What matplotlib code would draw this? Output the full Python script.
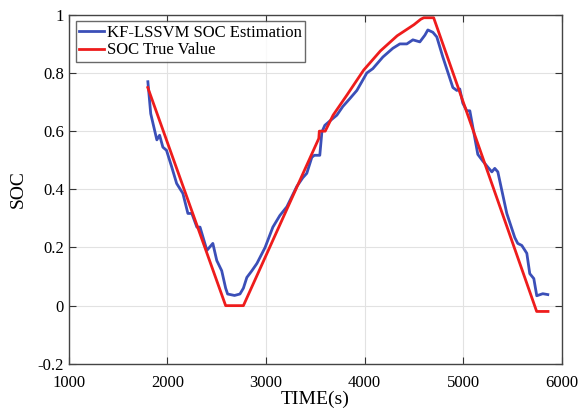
import matplotlib
matplotlib.use('Agg')
import matplotlib.pyplot as plt

plt.rcParams['font.family'] = ['Liberation Serif', 'DejaVu Serif']

# SOC true value (red)
true_t = [1800, 2590, 2770, 3535, 3540, 3600, 3680, 3820, 3990, 4160, 4330, 4500, 4570, 4600, 4700, 5745, 5860]
true_soc = [0.75, 0.0, 0.0, 0.575, 0.60, 0.60, 0.655, 0.724, 0.81, 0.876, 0.928, 0.966, 0.985, 0.99, 0.99, -0.02, -0.02]

# KF-LSSVM estimation (blue)
est_t = [1801, 1830, 1892, 1920, 1953, 1990, 2040, 2093, 2156, 2207, 2247, 2298, 2330, 2400, 2460,
         2500, 2550, 2590, 2610, 2680, 2735, 2770, 2805, 2856, 2907, 2990, 3069, 3140, 3211, 3312,
         3373, 3413, 3464, 3490, 3545, 3566, 3596, 3647, 3718, 3779, 3850, 3921, 4022, 4083, 4185,
         4286, 4357, 4428, 4489, 4560, 4611, 4641, 4692, 4732, 4793, 4895, 4935, 4965, 4996, 5036,
         5067, 5148, 5199, 5250, 5290, 5320, 5351, 5391, 5442, 5523, 5553, 5594, 5645, 5675, 5716,
         5746, 5807, 5858]
est_soc = [0.77, 0.66, 0.57, 0.586, 0.545, 0.534, 0.48, 0.42, 0.386, 0.317, 0.317, 0.27, 0.27, 0.19, 0.214,
           0.155, 0.12, 0.06, 0.04, 0.035, 0.04, 0.06, 0.097, 0.12, 0.145, 0.2, 0.27, 0.31, 0.34, 0.41,
           0.44, 0.455, 0.51, 0.517, 0.517, 0.597, 0.62, 0.635, 0.655, 0.685, 0.712, 0.74, 0.80, 0.815, 0.855,
           0.885, 0.90, 0.90, 0.914, 0.907, 0.93, 0.948, 0.94, 0.924, 0.855, 0.75, 0.74, 0.745, 0.696, 0.67,
           0.67, 0.52, 0.497, 0.476, 0.46, 0.472, 0.46, 0.397, 0.317, 0.234, 0.214, 0.207, 0.18, 0.11, 0.093,
           0.034, 0.041, 0.038]

fig = plt.figure(figsize=(5.84, 4.12), dpi=100)
ax = fig.add_axes([0.118, 0.117, 0.844, 0.847])

ax.plot(est_t, est_soc, color='#3b4fb8', lw=2.0, label='KF-LSSVM SOC Estimation')
ax.plot(true_t, true_soc, color='#ee1c1c', lw=2.0, label='SOC True Value')

ax.set_xlim(1000, 6000)
ax.set_ylim(-0.2, 1.0)
ax.set_xticks([1000, 2000, 3000, 4000, 5000, 6000])
ax.set_yticks([-0.2, 0, 0.2, 0.4, 0.6, 0.8, 1])
ax.set_yticklabels(['-0.2', '0', '0.2', '0.4', '0.6', '0.8', '1'])
ax.grid(True, color='#e2e2e2', lw=0.8)
ax.tick_params(direction='in', top=True, right=True, labelsize=12, length=5, color='#333333')
ax.tick_params(axis='x', pad=8)
for s in ax.spines.values():
    s.set_color('#444444')
    s.set_linewidth(1.0)

ax.set_xlabel('TIME(s)', fontsize=14, labelpad=0)
ax.set_ylabel('SOC', fontsize=14, labelpad=8)

leg = ax.legend(loc='upper left', fontsize=12, frameon=True, fancybox=False,
                edgecolor='#444444', handlelength=1.5, handletextpad=0.2,
                borderpad=0.2, labelspacing=0.1, borderaxespad=0.4)
leg.get_frame().set_linewidth(1.0)

fig.savefig('out.png', dpi=100)
